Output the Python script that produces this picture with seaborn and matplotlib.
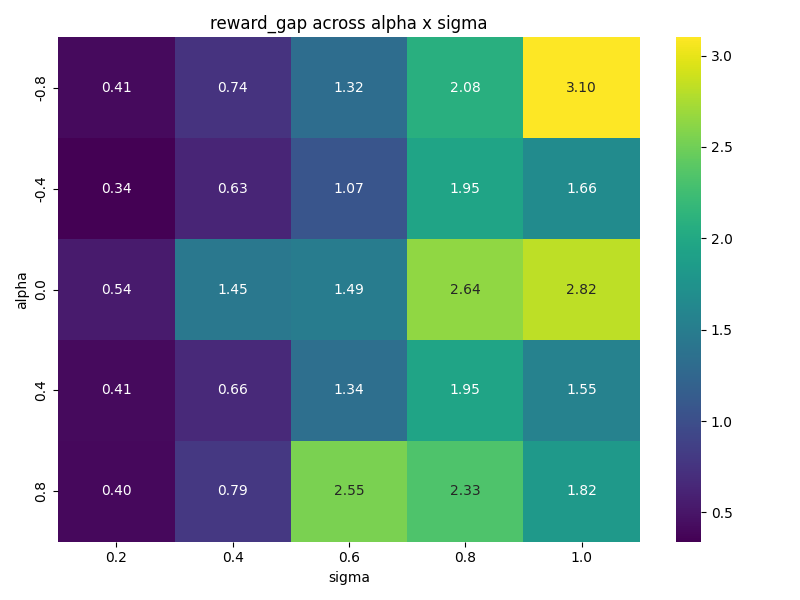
import numpy as np
import pandas as pd
import matplotlib
matplotlib.use("Agg")
import matplotlib.pyplot as plt
import seaborn as sns

alphas = [-0.8, -0.4, 0.0, 0.4, 0.8]
sigmas = [0.2, 0.4, 0.6, 0.8, 1.0]

# reward_gap values, rows = alpha, cols = sigma
row_m08 = [0.41, 0.74, 1.32, 2.08, 3.10]
row_m04 = [0.34, 0.63, 1.07, 1.95, 1.66]
row_00 = [0.54, 1.45, 1.49, 2.64, 2.82]
row_04 = [0.41, 0.66, 1.34, 1.95, 1.55]
row_08 = [0.40, 0.79, 2.55, 2.33, 1.82]

df = pd.DataFrame([row_m08, row_m04, row_00, row_04, row_08],
                  index=alphas, columns=sigmas)

plt.figure(figsize=(8, 6), dpi=100)
ax = sns.heatmap(df, annot=True, fmt=".2f", cmap="viridis")
ax.set_title("reward_gap across alpha x sigma")
ax.set_xlabel("sigma")
ax.set_ylabel("alpha")
plt.tight_layout()
plt.savefig("out.png", dpi=100)
